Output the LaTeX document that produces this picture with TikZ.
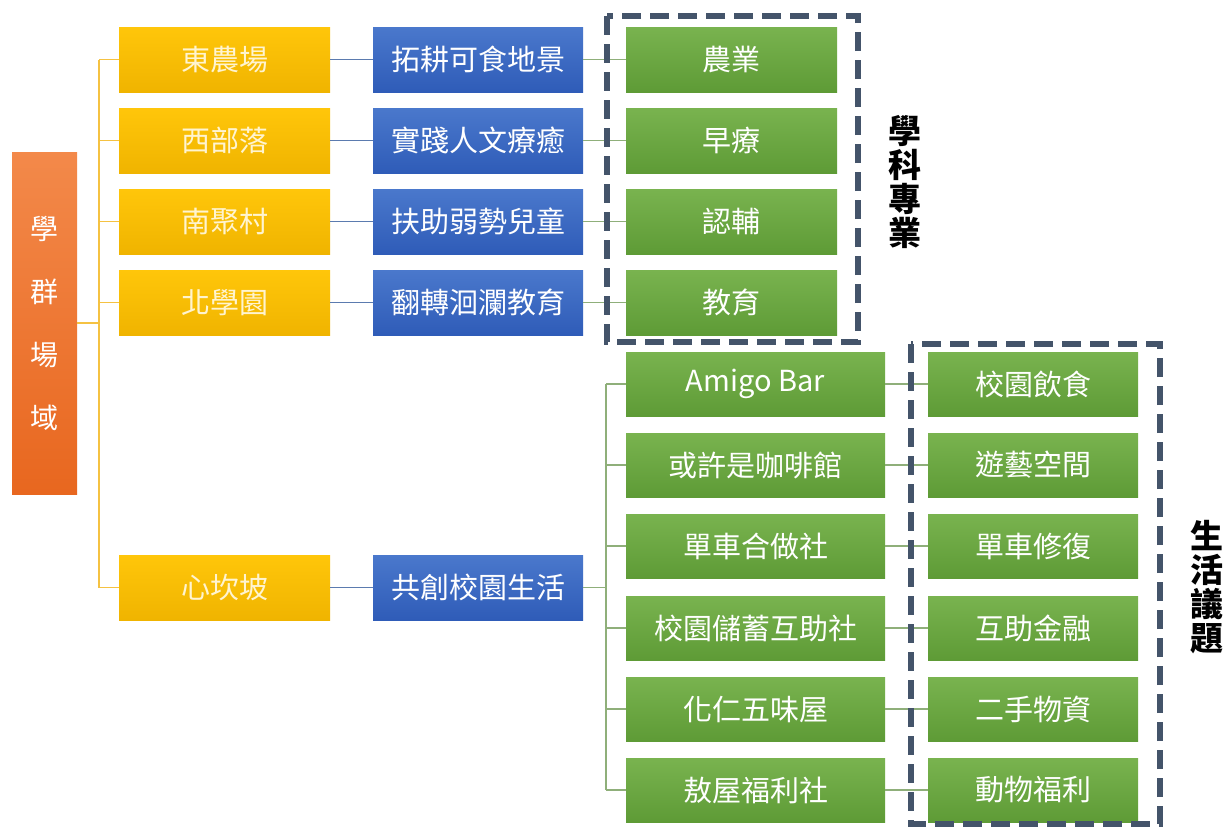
\documentclass[tikz,border=0pt]{standalone}
\usepackage{fontspec}
\setmainfont{Noto Sans CJK TC}
\definecolor{orgT}{HTML}{F3894A}
\definecolor{orgB}{HTML}{E8671F}
\definecolor{yelT}{HTML}{FFC60A}
\definecolor{yelB}{HTML}{F0B400}
\definecolor{bluT}{HTML}{4A78CC}
\definecolor{bluB}{HTML}{2F5CB8}
\definecolor{grnT}{HTML}{79B34F}
\definecolor{grnB}{HTML}{5E9B36}
\definecolor{dashc}{HTML}{44546A}
\definecolor{ylline}{HTML}{F5C242}
\definecolor{blline}{HTML}{5B7BAF}
\definecolor{gnline}{HTML}{8FAF7A}
\definecolor{ytext}{HTML}{FFF4D0}
\begin{document}
\begin{tikzpicture}[x=1pt,y=-1pt,
  boxbase/.style={rectangle, inner sep=0pt, font=\fontsize{29}{33}\selectfont},
  rootbox/.style={boxbase, minimum width=65pt, minimum height=342pt, top color=orgT, bottom color=orgB, text=white},
  rootchar/.style={font=\fontsize{28}{32}\selectfont, text=white, inner sep=0pt},
  ybox/.style={boxbase, minimum width=211pt, minimum height=65pt, top color=yelT, bottom color=yelB, text=ytext},
  bbox/.style={boxbase, minimum width=210pt, minimum height=65pt, top color=bluT, bottom color=bluB, text=white},
  gbox/.style={boxbase, minimum width=211pt, minimum height=65pt, top color=grnT, bottom color=grnB, text=white},
  gwbox/.style={boxbase, minimum width=259pt, minimum height=64pt, top color=grnT, bottom color=grnB, text=white},
  grbox/.style={boxbase, minimum width=210pt, minimum height=64pt, top color=grnT, bottom color=grnB, text=white},
  yline/.style={draw=ylline, line width=1.6pt},
  bline/.style={draw=blline, line width=1.3pt},
  gline/.style={draw=gnline, line width=1.3pt},
  dbox/.style={draw=dashc, line width=6pt, dash pattern=on 19pt off 9pt},
  sidelbl/.style={font=\fontsize{33}{37}\selectfont\bfseries, text=black, align=center, inner sep=0pt}
]
\useasboundingbox (0,0) rectangle (1226,828);
\fill[white] (0,0) rectangle (1226,828);

% root
\node[rootbox] (root) at (44.5,323) {};
\node[rootchar] (r1) at (44.5,229) {學};
\node[rootchar] (r2) at (44.5,292) {群};
\node[rootchar] (r3) at (44.5,355) {場};
\node[rootchar] (r4) at (44.5,418) {域};

% yellow column
\node[ybox] (y1) at (224.5,59.5) {東農場};
\node[ybox] (y2) at (224.5,140.5) {西部落};
\node[ybox] (y3) at (224.5,221.5) {南聚村};
\node[ybox] (y4) at (224.5,302.5) {北學園};
\node[ybox] (y5) at (224.5,587.5) {心坎坡};

% blue column
\node[bbox] (b1) at (478,59.5) {拓耕可食地景};
\node[bbox] (b2) at (478,140.5) {實踐人文療癒};
\node[bbox] (b3) at (478,221.5) {扶助弱勢兒童};
\node[bbox] (b4) at (478,302.5) {翻轉洄瀾教育};
\node[bbox] (b5) at (478,587.5) {共創校園生活};

% green column 1
\node[gbox] (g1) at (731.5,59.5) {農業};
\node[gbox] (g2) at (731.5,140.5) {早療};
\node[gbox] (g3) at (731.5,221.5) {認輔};
\node[gbox] (g4) at (731.5,302.5) {教育};

% green column 2
\node[gwbox] (h1) at (755.5,384) {Amigo Bar};
\node[gwbox] (h2) at (755.5,465) {或許是咖啡館};
\node[gwbox] (h3) at (755.5,546) {單車合做社};
\node[gwbox] (h4) at (755.5,628) {校園儲蓄互助社};
\node[gwbox] (h5) at (755.5,709) {化仁五味屋};
\node[gwbox] (h6) at (755.5,790) {敖屋福利社};

% green column 3
\node[grbox] (k1) at (1033,384) {校園飲食};
\node[grbox] (k2) at (1033,465) {遊藝空間};
\node[grbox] (k3) at (1033,546) {單車修復};
\node[grbox] (k4) at (1033,628) {互助金融};
\node[grbox] (k5) at (1033,709) {二手物資};
\node[grbox] (k6) at (1033,790) {動物福利};

% root tree connectors
\coordinate (tj) at (99,323);
\coordinate (ttop) at (99,59.5);
\coordinate (tbot) at (99,587.5);
\draw[yline] (root.east) -- (tj);
\draw[yline] (ttop) -- (tbot);
\foreach \n in {y1,y2,y3,y4,y5} \draw[yline] (tj |- \n.west) -- (\n.west);

% yellow -> blue
\foreach \i in {1,...,5} \draw[bline] (y\i.east) -- (b\i.west);

% blue -> green
\foreach \i in {1,...,4} \draw[gline] (b\i.east) -- (g\i.west);

% blue5 -> green column 2
\coordinate (sj) at (606,587.5);
\coordinate (stop) at (606,384);
\coordinate (sbot) at (606,790);
\draw[gline] (b5.east) -- (sj);
\draw[gline] (stop) -- (sbot);
\foreach \i in {1,...,6} \draw[gline] (sj |- h\i.west) -- (h\i.west);

% green column 2 -> column 3
\foreach \i in {1,...,6} \draw[gline] (h\i.east) -- (k\i.west);

% dashed group boxes
\coordinate (d1a) at (607,16);
\coordinate (d1b) at (858,342);
\draw[dbox] (d1a) rectangle (d1b);
\coordinate (d2a) at (911,344);
\coordinate (d2b) at (1160,824);
\draw[dbox] (d2a) rectangle (d2b);

% side labels
\node[sidelbl] (lab1) at (905,182) {學\\[-3pt]科\\[-3pt]專\\[-3pt]業};
\node[sidelbl] (lab2) at (1207,587) {生\\[-3pt]活\\[-3pt]議\\[-3pt]題};
\end{tikzpicture}
\end{document}
